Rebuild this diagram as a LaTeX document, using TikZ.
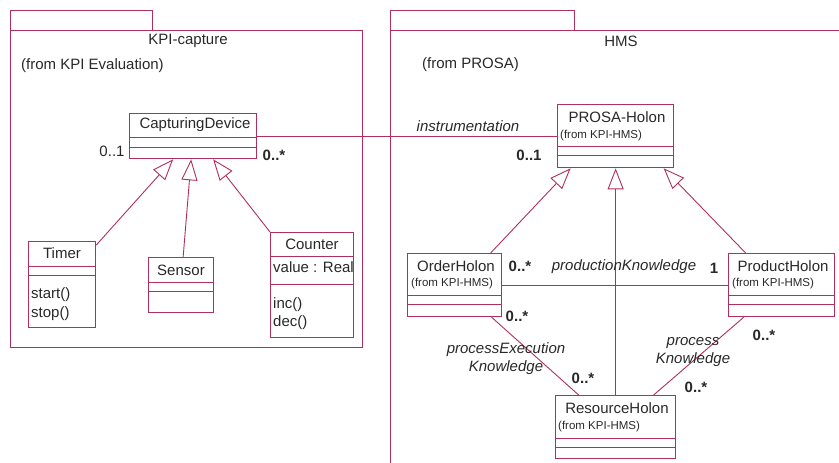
\documentclass[tikz,border=0pt]{standalone}
\usepackage{fontspec}
\setmainfont{Liberation Sans}
\usetikzlibrary{arrows.meta}
\definecolor{umlred}{RGB}{176,48,90}
\definecolor{umltext}{RGB}{40,40,40}

\begin{document}
\begin{tikzpicture}[x=1pt, y=-1pt,
  every node/.style={text=umltext, inner sep=0pt, font=\fontsize{15}{18}\selectfont},
  box/.style={draw=umlred, line width=1.3pt, anchor=north west},
  small/.style={anchor=west, font=\fontsize{11.5}{13}\selectfont},
  mult/.style={font=\bfseries\fontsize{15}{18}\selectfont},
  role/.style={align=center, font=\itshape\fontsize{15}{18}\selectfont},
  assoc/.style={draw=umlred, line width=0.9pt},
  inherit/.style={assoc, -{Triangle[open, length=21pt, width=16pt]}}]
  \useasboundingbox (0,0) rectangle (839,463);

  % packages
  \draw[umlred, line width=0.9pt] (10,30) -- (10,10) -- (152,10) -- (152,30);
  \draw[umlred, line width=0.9pt] (10,30) rectangle (362,347);
  \node (kpicap) at (188,41) {KPI-capture};
  \node[anchor=west] (kpifrom) at (21,66) {(from KPI Evaluation)};

  \draw[umlred, line width=0.9pt] (390,30) -- (390,10) -- (574,10) -- (574,30);
  \draw[umlred, line width=0.9pt] (839,30) -- (390,30) -- (390,463);
  \node (hms) at (621,41) {HMS};
  \node[anchor=west] (hmsfrom) at (422,65) {(from PROSA)};

  % KPI-capture classes
  \node[box, minimum width=127pt, minimum height=45pt] (cap) at (129,113) {};
  \draw[umlred] ([yshift=-24pt]cap.north west) -- ([yshift=-24pt]cap.north east);
  \draw[umlred] ([yshift=-34pt]cap.north west) -- ([yshift=-34pt]cap.north east);
  \node (capname) at (195,125) {CapturingDevice};

  \node[box, minimum width=67pt, minimum height=86pt] (timer) at (28,241) {};
  \draw[umlred] ([yshift=-25pt]timer.north west) -- ([yshift=-25pt]timer.north east);
  \draw[umlred] ([yshift=-34pt]timer.north west) -- ([yshift=-34pt]timer.north east);
  \node (timername) at (62,253) {Timer};
  \node[anchor=west] (tstart) at (31,295) {start()};
  \node[anchor=west] (tstop) at (31,314) {stop()};

  \node[box, minimum width=65pt, minimum height=55pt] (sensor) at (148,257) {};
  \draw[umlred] ([yshift=-25pt]sensor.north west) -- ([yshift=-25pt]sensor.north east);
  \draw[umlred] ([yshift=-34pt]sensor.north west) -- ([yshift=-34pt]sensor.north east);
  \node (sensorname) at (181,270) {Sensor};

  \node[box, minimum width=83pt, minimum height=105pt] (counter) at (270,232) {};
  \draw[umlred] ([yshift=-24pt]counter.north west) -- ([yshift=-24pt]counter.north east);
  \draw[umlred] ([yshift=-52pt]counter.north west) -- ([yshift=-52pt]counter.north east);
  \node (countername) at (312,244) {Counter};
  \node[anchor=west] (cvalue) at (273,267) {value : Real};
  \node[anchor=west] (cinc) at (273,305) {inc()};
  \node[anchor=west] (cdec) at (273,323) {dec()};

  \draw[inherit] ([yshift=-4pt]timer.north east) -- ([xshift=-20pt]cap.south);
  \draw[inherit] ([xshift=2pt]sensor.north) -- ([xshift=-2pt]cap.south);
  \draw[inherit] (counter.north west) -- ([xshift=20pt]cap.south);

  % HMS classes
  \node[box, minimum width=116pt, minimum height=63pt] (prosa) at (557,104) {};
  \draw[umlred] ([yshift=-42pt]prosa.north west) -- ([yshift=-42pt]prosa.north east);
  \draw[umlred] ([yshift=-51pt]prosa.north west) -- ([yshift=-51pt]prosa.north east);
  \node (prosaname) at (617,117) {PROSA-Holon};
  \node[small] (prosafrom) at (560,136) {(from KPI-HMS)};

  \node[box, minimum width=94pt, minimum height=63pt] (order) at (407,253) {};
  \draw[umlred] ([yshift=-42pt]order.north west) -- ([yshift=-42pt]order.north east);
  \draw[umlred] ([yshift=-51pt]order.north west) -- ([yshift=-51pt]order.north east);
  \node (ordername) at (456,266) {OrderHolon};
  \node[small] (orderfrom) at (411,284) {(from KPI-HMS)};

  \node[box, minimum width=106pt, minimum height=63pt] (product) at (728,253) {};
  \draw[umlred] ([yshift=-42pt]product.north west) -- ([yshift=-42pt]product.north east);
  \draw[umlred] ([yshift=-51pt]product.north west) -- ([yshift=-51pt]product.north east);
  \node (productname) at (783,266) {ProductHolon};
  \node[small] (productfrom) at (732,284) {(from KPI-HMS)};

  \node[box, minimum width=120pt, minimum height=63pt] (resource) at (555,395) {};
  \draw[umlred] ([yshift=-43pt]resource.north west) -- ([yshift=-43pt]resource.north east);
  \draw[umlred] ([yshift=-52pt]resource.north west) -- ([yshift=-52pt]resource.north east);
  \node (resourcename) at (617,408) {ResourceHolon};
  \node[small] (resourcefrom) at (558,427) {(from KPI-HMS)};

  \draw[inherit] ([xshift=36pt]order.north) -- ([xshift=-45pt]prosa.south);
  \draw[inherit] (resource.north) -- (prosa.south);
  \draw[inherit] ([xshift=-36pt]product.north) -- ([xshift=48pt]prosa.south);

  % associations
  \draw[assoc] (cap.east) -- (prosa.west);
  \node[role] (instr) at (468,126) {instrumentation};
  \node (m1) at (112,151) {0..1};
  \node[mult] (m2) at (274,155) {0..*};
  \node[mult] (m3) at (529,155) {0..1};

  \draw[assoc] (order.east) -- (product.west);
  \node[role] (prodknow) at (624,267) {productionKnowledge};
  \node[mult] (m4) at (520,266) {0..*};
  \node[mult] (m5) at (714,268) {1};

  \draw[assoc] ([xshift=37pt]order.south) -- ([xshift=-37pt]resource.north);
  \node[role] (execknow) at (506,359) {processExecution\\Knowledge};
  \node[mult] (m6) at (517,316) {0..*};
  \node[mult] (m7) at (583,378) {0..*};

  \draw[assoc] ([xshift=-38pt]product.south) -- ([xshift=38pt]resource.north);
  \node[role] (procknow) at (693,352) {process\\Knowledge};
  \node[mult] (m8) at (764,335) {0..*};
  \node[mult] (m9) at (696,387) {0..*};
\end{tikzpicture}
\end{document}
